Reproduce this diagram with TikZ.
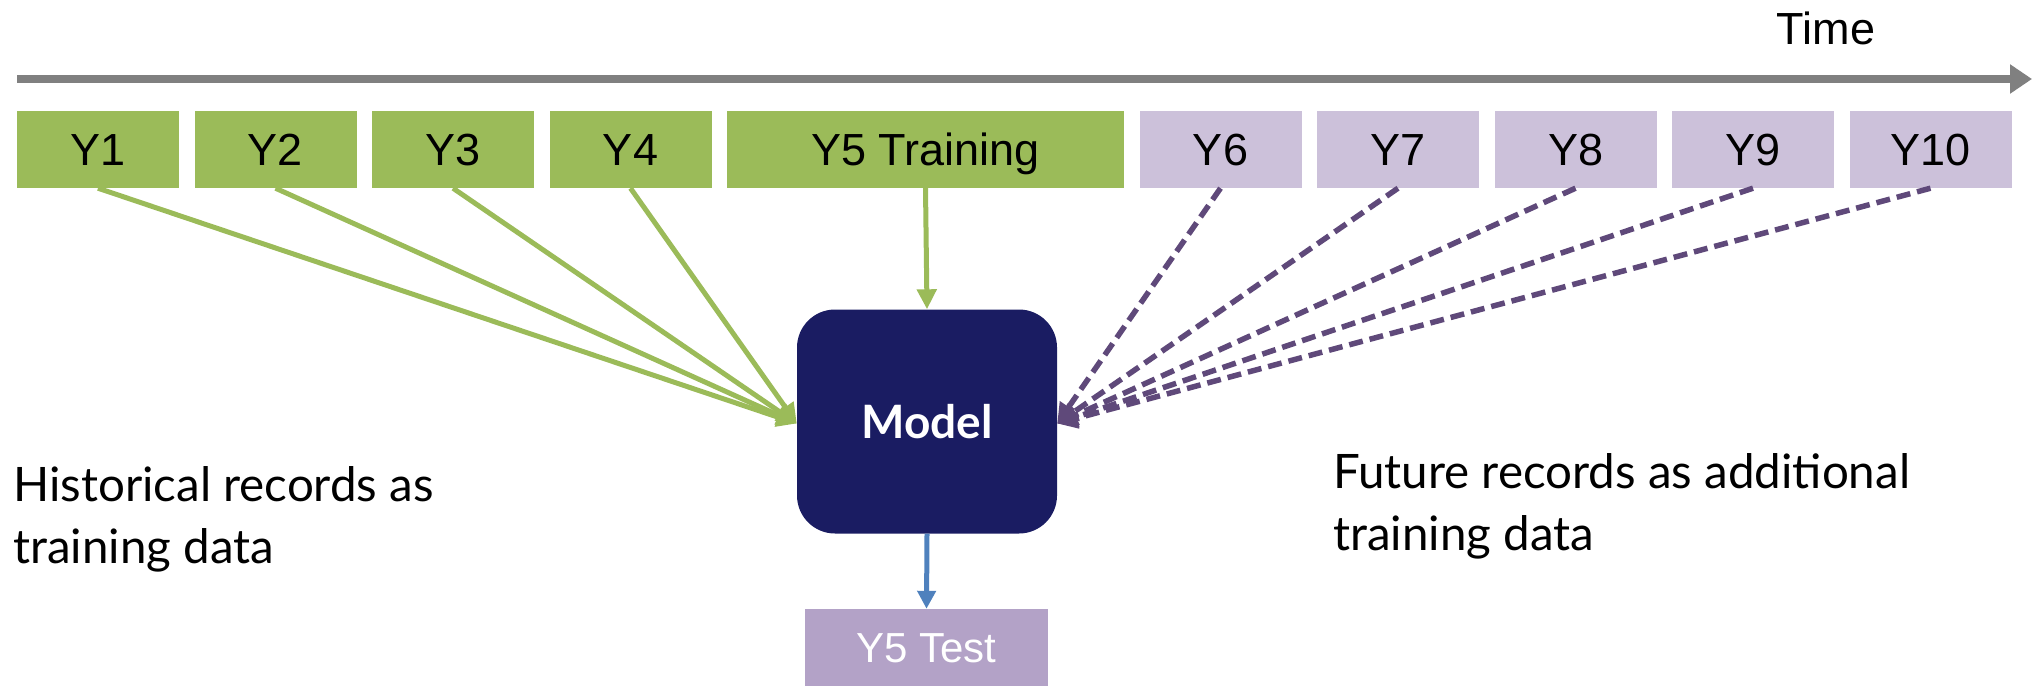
\documentclass[tikz,border=0pt]{standalone}
\usepackage{fontspec}
\setmainfont{Lato}
\newfontfamily\boxsans{Liberation Sans}
\usetikzlibrary{arrows.meta}
\definecolor{yeargreen}{HTML}{9BBB59}
\definecolor{futurelilac}{HTML}{CCC1DA}
\definecolor{testlilac}{HTML}{B3A2C7}
\definecolor{modelnavy}{HTML}{1A1C62}
\definecolor{dashpurple}{HTML}{5F497A}
\definecolor{outblue}{HTML}{4F81BD}
\definecolor{axisgray}{HTML}{808080}
\tikzset{
  yearbox/.style={rectangle, inner sep=0pt, minimum height=77pt,
    text height=32pt, text depth=0pt,
    font=\boxsans\fontsize{45}{50}\selectfont, text=black},
  pastyear/.style={yearbox, fill=yeargreen, minimum width=162pt},
  futureyear/.style={yearbox, fill=futurelilac, minimum width=162pt},
  histarrow/.style={draw=yeargreen, line width=5pt,
    -{Triangle[length=20pt,width=19pt]}},
  futarrow/.style={draw=dashpurple, line width=5.5pt, dash pattern=on 14pt off 7pt,
    -{Triangle[length=20pt,width=20pt]}},
  caption/.style={align=left, inner sep=0pt, anchor=north west,
    font=\fontsize{47.5}{57}\selectfont, text=black},
}
\begin{document}
\begin{tikzpicture}[x=1pt, y=-1pt]
\useasboundingbox (0,0) rectangle (2033,685);

% time axis
\coordinate (axisstart) at (17,79);
\coordinate (axisend) at (2032,79);
\draw[axisgray, line width=8pt, -{Triangle[length=22pt,width=28pt]}] (axisstart) -- (axisend);
\node[font=\boxsans\fontsize{45}{50}\selectfont, anchor=base, inner sep=0pt] (time) at (1826,45) {Time};

% yearly records
\node[pastyear] (y1) at (98,149.5) {Y1};
\node[pastyear] (y2) at (275.5,149.5) {Y2};
\node[pastyear] (y3) at (453,149.5) {Y3};
\node[pastyear] (y4) at (630.5,149.5) {Y4};
\node[yearbox, fill=yeargreen, minimum width=397pt] (y5) at (925.5,149.5) {Y5 Training};
\node[futureyear] (y6) at (1220.5,149.5) {Y6};
\node[futureyear] (y7) at (1398,149.5) {Y7};
\node[futureyear] (y8) at (1575.5,149.5) {Y8};
\node[futureyear] (y9) at (1753,149.5) {Y9};
\node[futureyear] (y10) at (1930.5,149.5) {Y10};

% model and test set
\node[rectangle, rounded corners=38pt, fill=modelnavy, minimum width=260pt,
  minimum height=224pt, text=white, font=\bfseries\fontsize{46}{50}\selectfont]
  (model) at (927,421.5) {Model};
\node[rectangle, fill=testlilac, minimum width=243pt, minimum height=77pt,
  inner sep=0pt, text height=30pt, text depth=0pt, text=white,
  font=\boxsans\fontsize{42}{50}\selectfont]
  (test) at (926.5,647.5) {Y5 Test};

\coordinate (inleft) at ([yshift=-2pt]model.west);
\coordinate (inright) at ([yshift=-2pt]model.east);

% past years feed the model
\foreach \n in {y1,y2,y3,y4}
  \draw[histarrow] (\n.south) -- (inleft);
\draw[histarrow] (y5.south) -- (model.north);

% future years feed the model
\foreach \n in {y6,y7,y8,y9,y10}
  \draw[futarrow] (\n.south) -- (inright);

% prediction
\draw[draw=outblue, line width=5pt, -{Triangle[length=18pt,width=18pt]}] (model.south) -- (test.north);

% captions
\node[caption] (histtext) at (13,466) {Historical records as\\[5pt]training data};
\node[caption] (futtext) at (1333,453) {Future records as additional\\[5pt]training data};
\end{tikzpicture}
\end{document}
